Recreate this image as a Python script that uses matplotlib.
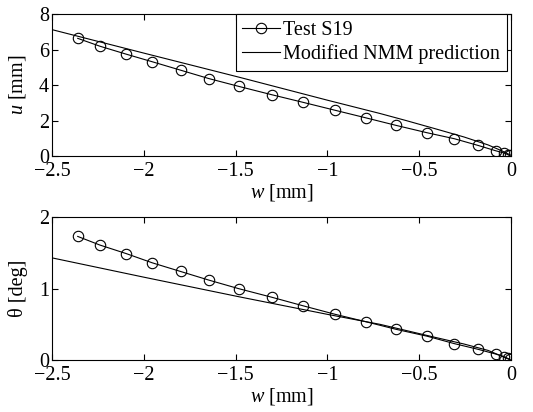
import matplotlib
matplotlib.use("Agg")
import matplotlib.pyplot as plt
import numpy as np

plt.rcParams['font.family'] = 'Liberation Serif'
plt.rcParams['mathtext.fontset'] = 'custom'
plt.rcParams['mathtext.rm'] = 'Liberation Serif'
plt.rcParams['mathtext.it'] = 'Liberation Serif:italic'
FS = 14.5

# test S19 measurements
w_test = [-2.36, -2.24, -2.096, -1.953, -1.80, -1.647, -1.484, -1.304, -1.133,
          -0.957, -0.788, -0.625, -0.458, -0.308, -0.178, -0.082, -0.036, -0.018, -0.006]
u_test = [6.63, 6.19, 5.74, 5.31, 4.84, 4.37, 3.93, 3.46, 3.03,
          2.58, 2.15, 1.73, 1.32, 0.98, 0.60, 0.30, 0.17, 0.09, 0.04]
th_test = [1.73, 1.61, 1.49, 1.36, 1.24, 1.12, 1.00, 0.88, 0.76,
           0.64, 0.535, 0.43, 0.335, 0.23, 0.15, 0.084, 0.047, 0.024, 0.01]

# modified NMM prediction
w_pred_u = [-2.5, -2.0, -1.476, -1.0, -0.713, -0.577, -0.408, -0.256, -0.124, -0.05, 0.0]
u_pred = [7.12, 5.80, 4.43, 3.15, 2.40, 2.02, 1.53, 1.08, 0.63, 0.30, 0.05]
w_pred_th = [-2.5, -2.0, -1.476, -1.0, -0.713, -0.408, -0.256, -0.124, 0.0]
th_pred = [1.43, 1.16, 0.883, 0.64, 0.50, 0.315, 0.225, 0.135, 0.0]

fig = plt.figure(figsize=(5.33, 4.12), dpi=100)
ax1 = fig.add_axes([0.0976, 0.621, 0.861, 0.345])
ax2 = fig.add_axes([0.0976, 0.126, 0.861, 0.347])

for ax, yt, wp, yp in [(ax1, u_test, w_pred_u, u_pred), (ax2, th_test, w_pred_th, th_pred)]:
    ax.plot(w_test, yt, 'k-o', mfc='none', ms=7.5, lw=0.8, mew=0.8, label='Test S19')
    ax.plot(wp, yp, 'k-', lw=0.8, label='Modified NMM prediction')
    ax.set_xlim(-2.5, 0)
    ax.set_xticks([-2.5, -2, -1.5, -1, -0.5, 0])
    ax.set_xticklabels(['\u22122.5', '\u22122', '\u22121.5', '\u22121', '\u22120.5', '0'])
    ax.tick_params(direction='in', top=True, right=True, labelsize=FS, length=4)
    ax.tick_params(axis='x', pad=4)
    ax.tick_params(axis='y', pad=2)
    ax.set_xlabel(r'$w$ [mm]', fontsize=FS, labelpad=1)
    for s in ax.spines.values():
        s.set_linewidth(0.8)

ax1.set_ylim(0, 8)
ax1.set_yticks([0, 2, 4, 6, 8])
ax1.set_ylabel(r'$u$ [mm]', fontsize=FS, labelpad=8)
ax2.set_ylim(0, 2)
ax2.set_yticks([0, 1, 2])
ax2.set_ylabel('\u03b8 [deg]', fontsize=FS, labelpad=8)

leg = ax1.legend(loc='upper right', bbox_to_anchor=(0.991, 1.0), fontsize=FS,
                 fancybox=False, framealpha=1, edgecolor='k', borderaxespad=0,
                 handlelength=1.9, borderpad=0.32, labelspacing=0.25,
                 handletextpad=0.15)
leg.get_frame().set_linewidth(0.8)

fig.savefig('out.png', dpi=100)
